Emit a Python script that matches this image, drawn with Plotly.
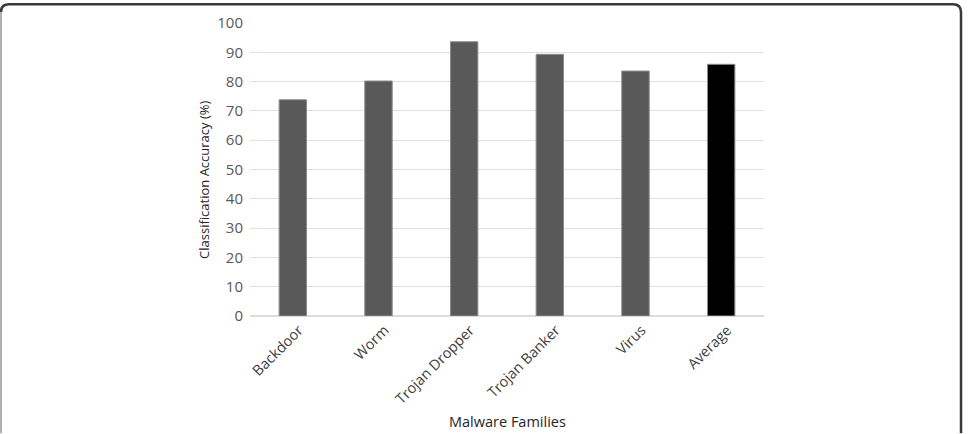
import plotly.graph_objects as go

categories = ["Backdoor", "Worm", "Trojan Dropper", "Trojan Banker", "Virus", "Average"]
accuracy = [73.8, 80.2, 93.6, 89.3, 83.6, 85.9]
bar_colors = ["#595959", "#595959", "#595959", "#595959", "#595959", "#000000"]
y_ticks = [0, 10, 20, 30, 40, 50, 60, 70, 80, 90, 100]

W, H = 971, 434
L, R, T, B = 250, 207, 21, 118
PW, PH = W - L - R, H - T - B

def px(x):
    return (x - L) / PW

def py(y):
    return (H - B - y) / PH

fig = go.Figure()
fig.add_trace(go.Bar(
    x=categories, y=accuracy,
    marker=dict(color=bar_colors, line=dict(color="#8c8c8c", width=1)),
    width=0.32,
))

font = "Open Sans, Noto Sans, sans-serif"
fig.update_layout(
    width=W, height=H,
    margin=dict(l=L, r=R, t=T, b=B),
    paper_bgcolor="white", plot_bgcolor="white",
    showlegend=False,
    font=dict(family=font, color="#404040"),
    xaxis=dict(tickangle=-45, tickfont=dict(size=14.5, color="#404040"),
               showgrid=False, showline=False, ticks="", ticklen=0,
               ticklabelstandoff=2, ticklabelshift=6),
    yaxis=dict(range=[0, 100], tickvals=y_ticks, tickfont=dict(size=15, color="#595959"),
               gridcolor="#e0e0e0", gridwidth=1, zeroline=True, zerolinecolor="#dcdcdc",
               showline=False, ticks="", ticklabelstandoff=6),
)

fig.add_annotation(text="Classification Accuracy (%)", xref="paper", yref="paper",
                   x=px(204), y=py(179), xanchor="center", yanchor="middle",
                   textangle=-90, showarrow=False,
                   font=dict(size=13, color="#262626", family=font))
fig.add_annotation(text="Malware Families", xref="paper", yref="paper",
                   x=px(507), y=py(422), xanchor="center", yanchor="middle",
                   showarrow=False,
                   font=dict(size=14.5, color="#262626", family=font))

# frame
r = 8
fig.add_shape(type="path", xref="paper", yref="paper",
              path=f"M {px(961)},{py(434)} L {px(961)},{py(2+r)} Q {px(961)},{py(2)} {px(961-r)},{py(2)} "
                   f"L {px(1+r)},{py(2)} Q {px(1)},{py(2)} {px(1)},{py(2+r)}",
              line=dict(color="#3a3a3a", width=2.5))
fig.add_shape(type="line", xref="paper", yref="paper",
              x0=px(1), x1=px(1), y0=py(2+r), y1=py(434),
              line=dict(color="#b0b0b0", width=2))

fig.write_html("out.html")
